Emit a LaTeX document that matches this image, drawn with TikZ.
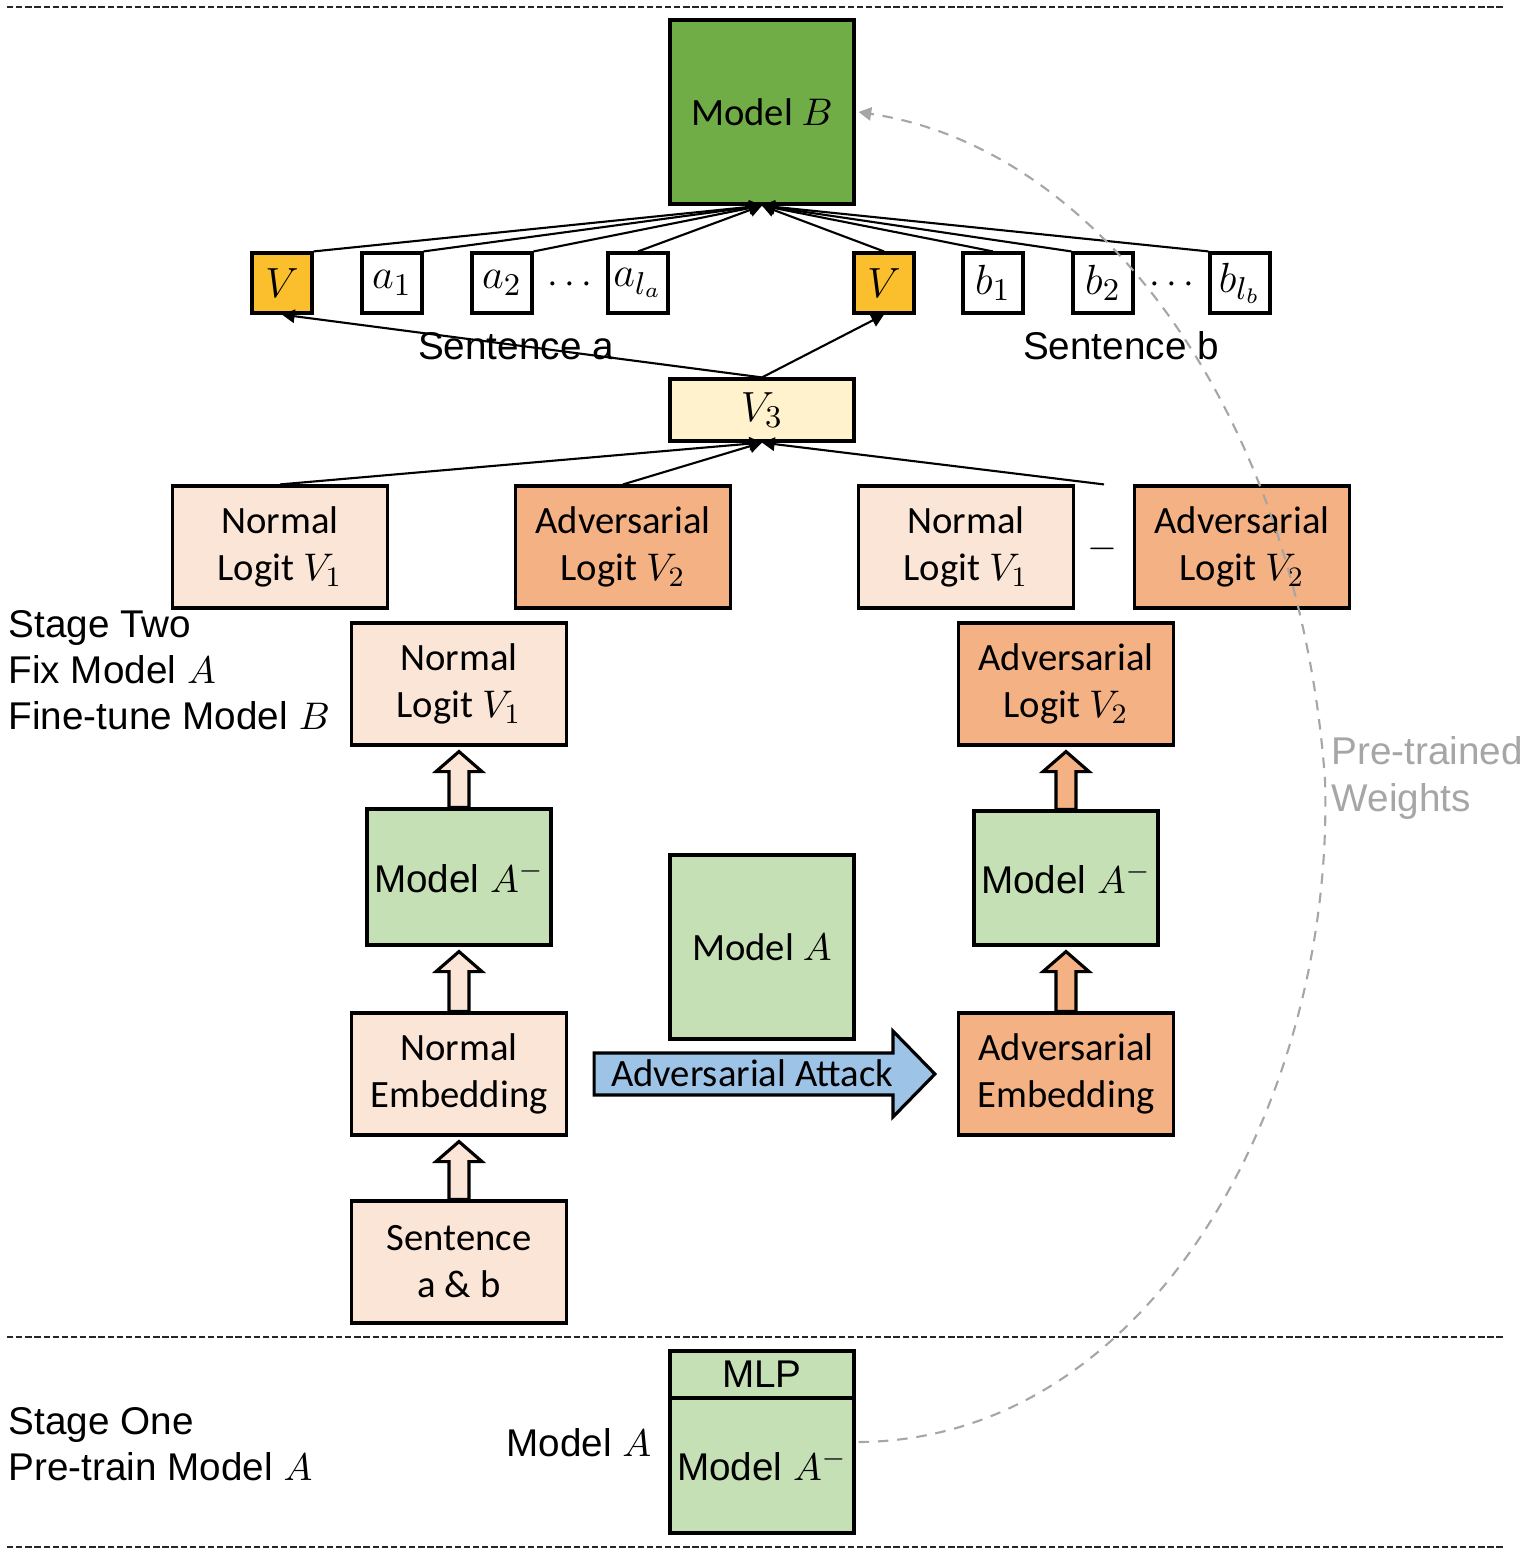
\documentclass[tikz,border=0pt]{standalone}
\usepackage{fontspec}
\setmainfont{Carlito}
\newfontfamily\arialfont{Liberation Sans}
\usepackage{tikz}
\usetikzlibrary{positioning,arrows.meta,calc}
\definecolor{atdeep}{HTML}{70AD47}
\definecolor{atgreen}{HTML}{C5E0B4}
\definecolor{atpeach}{HTML}{FBE5D6}
\definecolor{atorange}{HTML}{F4B183}
\definecolor{atgold}{HTML}{FBBF2D}
\definecolor{atcream}{HTML}{FFF2CC}
\definecolor{atblue}{HTML}{9DC3E6}
\definecolor{atgrey}{HTML}{A6A6A6}
\newcommand{\boxfont}{\fontsize{11}{13.4}\selectfont}
\newcommand{\labfont}{\arialfont\fontsize{11}{13.1}\selectfont}
\newcommand{\tokfont}{\fontsize{12.5}{15}\selectfont}
\tikzset{
  box/.style     ={draw=black, line width=0.9pt, inner sep=0pt, align=center,
                   font=\boxfont},
  normbox/.style ={box, fill=atpeach, minimum width=2.15cm, minimum height=1.22cm},
  advbox/.style  ={box, fill=atorange, minimum width=2.15cm, minimum height=1.22cm},
  modelbox/.style={box, fill=atgreen, minimum width=1.84cm, font=\labfont},
  tok/.style     ={box, fill=white, minimum size=0.6cm, font=\tokfont},
  vtok/.style    ={tok, fill=atgold},
  lab/.style     ={font=\labfont, align=left, inner sep=0pt},
  edge/.style    ={-{Triangle[length=3.6pt,width=3.8pt]}, line width=0.6pt},
  lift/.style    ={draw=black, line width=0.9pt, line join=miter},
  sep/.style     ={draw=black!85, line width=0.7pt, dash pattern=on 1.8pt off 0.8pt},
  weights/.style ={draw=atgrey, line width=0.6pt, dash pattern=on 3pt off 2.5pt,
                   -{Triangle[length=3.6pt,width=3.8pt]}},
}
\newcommand{\liftarrow}[3]{%
  \draw[lift, fill=#3]
    ($(#1.north)+(-10,0)$) -- ($(#1.north |- #2.south)+(-10,25)$)
    -- ($(#1.north |- #2.south)+(-23,25)$) -- ($(#1.north |- #2.south)+(0,5)$)
    -- ($(#1.north |- #2.south)+(23,25)$) -- ($(#1.north |- #2.south)+(10,25)$)
    -- ($(#1.north)+(10,0)$) -- cycle;%
}

\begin{document}
\begin{tikzpicture}[x=0.1mm,y=-0.1mm]
  \useasboundingbox (0,0) rectangle (1526,1554);

  % ---- stage separators ---------------------------------------------------
  \draw[sep] (7,7) -- (1505,7);
  \draw[sep] (7,1337) -- (1505,1337);
  \draw[sep] (7,1547) -- (1505,1547);

  % ---- model B and the token row -----------------------------------------
  \node[box, fill=atdeep, minimum size=1.84cm] (modelB) at (762,112) {Model $B$};

  \node[vtok] (va)  at (282,283)  {$V$};
  \node[tok]  (a1)  at (392,283)  {$a_1$};
  \node[tok]  (a2)  at (502,283)  {$a_2$};
  \node[font=\boxfont] (adots) at (570,285) {$\cdots$};
  \node[tok]  (ala) at (638,283)  {$a_{l_a}$};
  \node[vtok] (vb)  at (884,283)  {$V$};
  \node[tok]  (b1)  at (993,283)  {$b_1$};
  \node[tok]  (b2)  at (1103,283) {$b_2$};
  \node[font=\boxfont] (bdots) at (1172,285) {$\cdots$};
  \node[tok]  (blb) at (1240,283) {$b_{l_b}$};

  \node[lab] (senta) at (516,346)  {Sentence a};
  \node[lab] (sentb) at (1121,346) {Sentence b};

  \foreach \t/\a in {va/north east, a1/north east, a2/north east, ala/north,
                     vb/north, b1/north, b2/north west, blb/north west}
    \draw[edge] (\t.\a) -- (modelB.south);

  % ---- V3 and the logit row ----------------------------------------------
  \node[box, fill=atcream, minimum width=1.84cm, minimum height=0.62cm,
        font=\tokfont] (v3) at (762,410) {$V_3$};
  \draw[edge] (v3.north) -- (va.south);
  \draw[edge] (v3.north) -- (vb.south);

  \node[normbox] (nl1) at (280,547)  {Normal\\Logit $V_1$};
  \node[advbox]  (al1) at (623,547)  {Adversarial\\Logit $V_2$};
  \node[normbox] (nl2) at (966,547)  {Normal\\Logit $V_1$};
  \node[font=\boxfont] (minus) at (1102,549) {$-$};
  \node[advbox]  (al2) at (1242,547) {Adversarial\\Logit $V_2$};
  \coordinate (difftop) at ($(nl2.north east)!0.5!(al2.north west)$);

  \draw[edge] (nl1.north) -- (v3.south);
  \draw[edge] (al1.north) -- (v3.south);
  \draw[edge] (difftop) -- (v3.south);

  % ---- stage two ----------------------------------------------------------
  \node[lab, anchor=west] (stagetwo) at (8,670)
    {Stage Two\\Fix Model $A$\\Fine-tune Model $B$};

  % normal branch
  \node[normbox] (nlog) at (459,684)  {Normal\\Logit $V_1$};
  \node[modelbox, minimum height=1.36cm] (mal) at (459,877) {Model $A^{-}$};
  \node[normbox] (nemb) at (459,1074) {Normal\\Embedding};
  \node[normbox] (sent) at (459,1262) {Sentence\\a \& b};
  \liftarrow{mal}{nlog}{atpeach}
  \liftarrow{nemb}{mal}{atpeach}
  \liftarrow{sent}{nemb}{atpeach}

  % adversarial branch
  \node[advbox] (alog) at (1066,684)  {Adversarial\\Logit $V_2$};
  \node[modelbox, minimum height=1.34cm] (mar) at (1066,878) {Model $A^{-}$};
  \node[advbox] (aemb) at (1066,1074) {Adversarial\\Embedding};
  \liftarrow{mar}{alog}{atorange}
  \liftarrow{aemb}{mar}{atorange}

  % model A and the attack
  \node[box, fill=atgreen, minimum size=1.84cm] (modelA) at (762,947) {Model $A$};
  \coordinate (atkstart) at ($(nemb.east)+(26,0)$);
  \coordinate (atktip) at ($(aemb.west)+(-22,0)$);
  \draw[lift, fill=atblue] ($(atkstart)+(0,-21)$) -- ($(atktip)+(-42,-21)$)
    -- ($(atktip)+(-42,-43)$) -- (atktip) -- ($(atktip)+(-42,43)$)
    -- ($(atktip)+(-42,21)$) -- ($(atkstart)+(0,21)$) -- cycle;
  \node[font=\boxfont] (atk) at (752,1073) {Adversarial Attack};

  % ---- stage one ----------------------------------------------------------
  \node[lab, anchor=west] (stageone) at (8,1444)
    {Stage One\\Pre-train Model $A$};
  \node[lab, anchor=east] (modelAlab) at (652,1443) {Model $A$};
  \node[modelbox, minimum height=0.47cm] (mlptop) at (762,1374.5) {MLP};
  \node[modelbox, minimum height=1.35cm] (mlpbody) at (762,1465.5) {Model $A^{-}$};

  % pre-trained weights
  \draw[weights] ($(mlpbody.north east)!0.33!(mlpbody.south east)+(3,0)$)
    .. controls (1150,1440) and (1335,1100) .. (1325,780)
    .. controls (1300,430) and (1110,150) .. ($(modelB.east)+(3,0)$);
  \node[lab, anchor=west, text=atgrey] (ptw) at (1331,778) {Pre-trained\\Weights};
\end{tikzpicture}
\end{document}
